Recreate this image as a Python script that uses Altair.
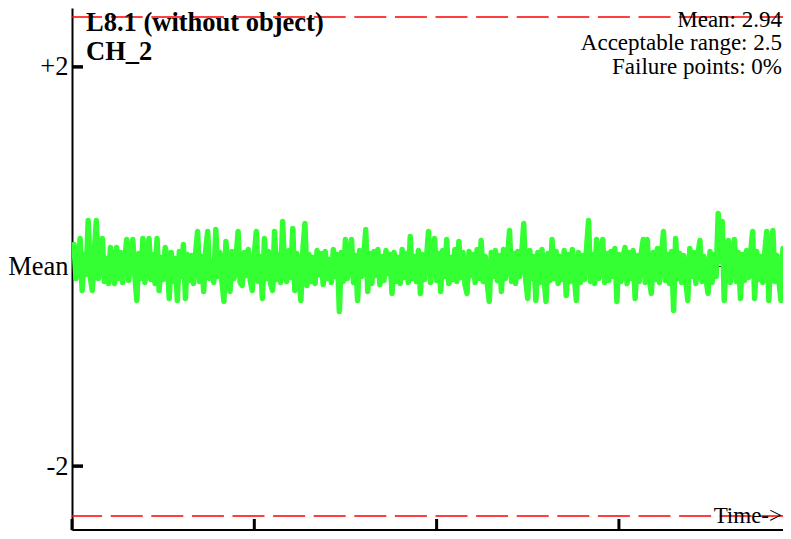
import altair as alt
import pandas as pd

# ---- data (deviation from the mean, in chart units) ----
# 90 samples per time tick
seg1 = [0.10, 0.22, -0.12, -0.05, 0.28, -0.24, 0.12, -0.08, 0.46, -0.10,
        -0.24, 0.15, 0.46, -0.12, 0.10, 0.28, -0.15, 0.08, -0.17, 0.19,
        -0.05, -0.17, 0.19, -0.12, 0.14, -0.16, 0.05, 0.27, -0.14, 0.10,
        0.27, -0.08, -0.34, 0.13, -0.12, 0.28, -0.16, 0.06, 0.28, -0.13,
        0.12, -0.17, 0.28, -0.24, 0.09, -0.13, 0.19, 0.10, -0.32, 0.14,
        -0.15, 0.08, -0.34, 0.15, -0.10, 0.22, -0.32, 0.12, -0.14, 0.11,
        -0.17, 0.13, 0.35, -0.15, 0.10, -0.25, 0.16, 0.35, -0.12, 0.05,
        -0.16, 0.37, -0.10, 0.14, -0.14, -0.35, 0.25, -0.06, -0.25, 0.15,
        -0.12, 0.09, 0.35, -0.16, -0.19, 0.14, -0.09, 0.17, -0.14, -0.24]
seg2 = [0.12, 0.35, -0.15, 0.10, -0.32, 0.28, -0.12, 0.15, -0.17, -0.24,
        0.35, -0.13, 0.12, -0.16, 0.45, -0.07, -0.15, 0.16, -0.11, 0.38,
        -0.24, 0.13, -0.09, -0.34, 0.17, 0.43, -0.19, 0.12, -0.15, 0.09,
        -0.17, 0.16, -0.08, 0.13, -0.18, 0.15, -0.12, 0.07, -0.16, 0.17,
        -0.10, 0.12, -0.45, 0.14, -0.15, 0.27, -0.12, 0.10, 0.27, -0.16,
        0.11, -0.34, 0.16, -0.10, 0.06, 0.37, -0.25, 0.13, -0.17, 0.15,
        -0.09, 0.17, -0.18, 0.10, -0.14, 0.16, -0.07, 0.12, -0.27, 0.14,
        -0.15, 0.09, -0.17, 0.17, -0.11, 0.13, -0.16, 0.30, -0.12, 0.10,
        -0.15, 0.16, -0.27, 0.12, -0.13, 0.08, 0.35, -0.16, 0.11, 0.28]
seg3 = [-0.14, 0.13, -0.25, 0.16, -0.10, 0.27, -0.17, 0.09, -0.13, 0.17,
        -0.15, 0.25, -0.11, 0.14, -0.18, -0.27, 0.15, -0.09, 0.12, -0.16,
        0.17, -0.12, 0.26, -0.15, 0.10, -0.17, -0.35, 0.14, -0.10, 0.16,
        -0.14, 0.11, -0.25, 0.17, -0.12, 0.08, 0.36, -0.15, 0.13, -0.17,
        0.15, -0.10, 0.12, 0.43, -0.14, -0.32, 0.16, -0.12, 0.10, -0.34,
        0.14, -0.16, 0.17, -0.10, -0.35, 0.13, -0.14, 0.27, -0.12, 0.15,
        -0.17, 0.10, -0.13, 0.16, -0.29, 0.12, -0.15, 0.17, -0.11, -0.34,
        0.14, -0.16, 0.11, -0.13, 0.17, 0.46, -0.15, 0.12, -0.17, 0.27,
        -0.12, 0.09, 0.27, -0.16, 0.13, -0.14, 0.15, -0.10, 0.18, -0.35]
seg4 = [0.12, -0.15, 0.10, 0.19, -0.17, 0.14, -0.12, 0.16, -0.32, 0.11,
        -0.15, 0.13, 0.27, -0.16, 0.27, -0.11, -0.27, 0.14, -0.13, 0.18,
        -0.16, 0.10, 0.35, -0.14, 0.12, -0.17, 0.15, -0.44, 0.28, -0.12,
        0.13, -0.16, 0.11, -0.14, -0.34, 0.18, -0.10, 0.14, -0.17, 0.12,
        0.26, -0.15, 0.10, -0.13, -0.27, 0.15, -0.16, 0.12, -0.10, 0.53,
        0.05, 0.45, -0.34, 0.13, 0.26, -0.16, 0.11, 0.27, -0.15, 0.14,
        -0.32, 0.12, -0.14, 0.16, -0.11, 0.13, 0.35, -0.32, 0.15, -0.13,
        0.10, -0.16, 0.14, 0.35, -0.34, 0.12, 0.36, -0.15, 0.11, -0.14,
        -0.34, 0.18, -0.12, 0.14, -0.29]

mean_level = [0]
limit_levels = [-2.5, 2.5]
y_tick_values = [-2, 0, 2]
y_side_ticks = [-2, 2]
x_tick_values = [0, 90, 180, 270]

title_line1 = "L8.1 (without object)"
title_line2 = "CH_2"
stat_lines = ["Mean: 2.94", "Acceptable range: 2.5", "Failure points: 0%"]
time_label = "Time->"

# ---- build ----
values = seg1 + seg2 + seg3 + seg4
sig = pd.DataFrame({"i": list(range(len(values))), "v": values})

W, H = 711, 522
FONT = "Liberation Serif"

yscale = alt.Scale(domain=[-2.64, 2.59], nice=False, zero=False)
xscale = alt.Scale(domain=[0, 351], nice=False, zero=False)

y_axis = alt.Axis(values=y_tick_values, title=None, grid=False, ticks=False,
                  labelExpr="datum.value == 0 ? 'Mean' : (datum.value > 0 ? '+2' : '-2')",
                  labelFont=FONT, labelFontSize=26.5, labelColor="black",
                  labelPadding=4, domainColor="black", domainWidth=2)
x_axis = alt.Axis(values=x_tick_values, title=None, grid=False, ticks=False,
                  labels=False, domainColor="black", domainWidth=3)

mean_rule = alt.Chart(pd.DataFrame({"lv": mean_level})).mark_rule(
    color="black", strokeWidth=1
).encode(y=alt.Y("lv:Q", scale=yscale, axis=y_axis))

limit_rules = alt.Chart(pd.DataFrame({"lv": limit_levels})).mark_rule(
    color="#ff0000", strokeWidth=1.5, strokeDash=[32, 8.6], strokeDashOffset=9.3
).encode(y=alt.Y("lv:Q", scale=yscale, axis=y_axis))

line = alt.Chart(sig).mark_line(
    color="#33ff33", strokeWidth=5.5, strokeCap="round", strokeJoin="round",
    clip=True
).encode(
    x=alt.X("i:Q", scale=xscale, axis=x_axis),
    y=alt.Y("v:Q", scale=yscale, axis=y_axis),
)

y_ticks = alt.Chart(pd.DataFrame({"lv": y_side_ticks})).mark_rule(
    color="black", strokeWidth=3.5
).encode(y=alt.Y("lv:Q", scale=yscale, axis=y_axis),
         x=alt.value(0), x2=alt.value(11))

x_ticks = alt.Chart(pd.DataFrame({"t": x_tick_values})).mark_rule(
    color="black", strokeWidth=3
).encode(x=alt.X("t:Q", scale=xscale, axis=x_axis),
         y=alt.value(H), y2=alt.value(H - 11))


def txt(s, x, y, align, size, weight="normal"):
    return alt.Chart(pd.DataFrame({"s": [s]})).mark_text(
        align=align, baseline="alphabetic", font=FONT, fontSize=size,
        fontWeight=weight, color="black"
    ).encode(text="s:N", x=alt.value(x), y=alt.value(y))


texts = [
    txt(title_line1, 14, 23, "left", 26.5, "bold"),
    txt(title_line2, 14, 52, "left", 26.5, "bold"),
    txt(stat_lines[0], 710, 19, "right", 23),
    txt(stat_lines[1], 710, 42, "right", 23),
    txt(stat_lines[2], 710, 66, "right", 23),
    txt(time_label, 710, 515, "right", 23),
]

chart = alt.layer(mean_rule, limit_rules, line, y_ticks, x_ticks, *texts).properties(
    width=W, height=H,
    autosize=alt.AutoSizeParams(type="none"),
    padding={"left": 64, "top": 0, "right": 0, "bottom": 1},
    background="white",
).configure_view(stroke=None)

chart.save("out.html", embed_options={"renderer": "svg", "actions": False})
